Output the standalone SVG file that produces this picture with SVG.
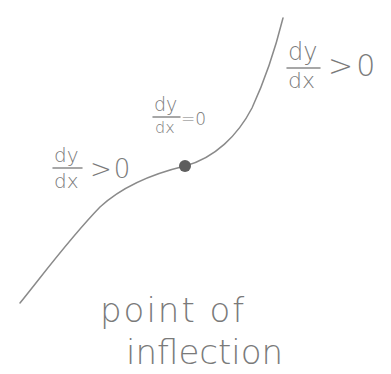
<svg xmlns="http://www.w3.org/2000/svg" width="391" height="374" viewBox="0 0 391 374">
<style>
.t{font-family:"DejaVu Sans","Liberation Sans",sans-serif;fill:#7a7a7a;font-weight:300}
.ln{stroke:#8a8a8a;stroke-width:1.5;fill:none;stroke-linecap:round}
</style>
<rect width="391" height="374" fill="#ffffff"/>
<g id="connectors">
<path class="ln" d="M20,303 C45,272 70,238 100,207 C125,184 160,172 185,166 C215,158 238,135 252,108 C265,80 275,50 283,18"/>
</g>
<g id="inflection-point">
<circle cx="185" cy="166" r="6" fill="#5e5e5e"/>
</g>
<g id="label-right">
<text class="t" x="288" y="60" font-size="24">dy</text>
<line class="ln" x1="287" y1="68" x2="320" y2="68"/>
<text class="t" x="288" y="88" font-size="22">dx</text>
<text class="t" x="328" y="76" font-size="30" letter-spacing="3">&gt;0</text>
</g>
<g id="label-middle">
<text class="t" x="154" y="111" font-size="19">dy</text>
<line class="ln" x1="153" y1="117" x2="180" y2="117"/>
<text class="t" x="155" y="133" font-size="16">dx</text>
<text class="t" x="181" y="125" font-size="17">=0</text>
</g>
<g id="label-left">
<text class="t" x="54" y="162" font-size="20">dy</text>
<line class="ln" x1="53" y1="168" x2="82" y2="168"/>
<text class="t" x="54" y="188" font-size="20">dx</text>
<text class="t" x="90" y="178" font-size="26" letter-spacing="2">&gt;0</text>
</g>
<g id="caption">
<text class="t" x="100" y="322" font-size="34" letter-spacing="2">point of</text>
<text class="t" x="126" y="364" font-size="34">inflection</text>
</g>
</svg>
